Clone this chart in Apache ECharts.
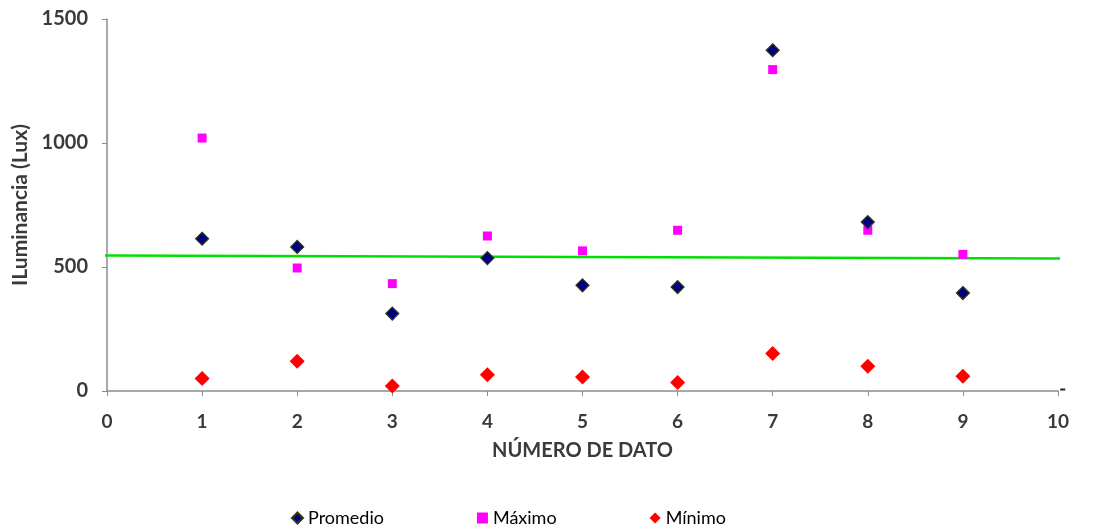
<!DOCTYPE html>
<html>
<head>
<meta charset="utf-8">
<script src="https://cdn.jsdelivr.net/npm/echarts@6/dist/echarts.min.js"></script>
<style>
  html, body { margin: 0; padding: 0; background: #ffffff; }
  #chart { width: 1097px; height: 529px; }
</style>
</head>
<body>
<div id="chart"></div>
<script>
// Measurement number (x) for each reading
const datos = [1, 2, 3, 4, 5, 6, 7, 8, 9];
// Illuminance readings in lux
const promedio = [614, 581, 312, 536, 426, 419, 1374, 681, 395];
const maximo   = [1020, 496, 433, 625, 565, 648, 1296, 648, 551];
const minimo   = [50, 120, 20, 66, 56, 34, 151, 100, 59];
// Reference (trend) line end points
const refX = [-0.1, 10.41];
const refY = [546, 534];
// Small stray mark at the end of the x axis
const extraX = [10.05];
const extraY = [6];

const pairs = (xs, ys) => xs.map((x, i) => [x, ys[i]]);

const font = 'Lato, "Open Sans", "DejaVu Sans", sans-serif';
const axisGray = '#8c8c8c';
const labelColor = '#3a3a3a';

const chart = echarts.init(document.getElementById('chart'));
chart.setOption({
  animation: false,
  backgroundColor: '#ffffff',
  grid: { left: 107, right: 39, top: 19, bottom: 138, containLabel: false },
  xAxis: {
    type: 'value', min: 0, max: 10, interval: 1,
    name: 'NÚMERO DE DATO', nameLocation: 'middle', nameGap: 50,
    nameTextStyle: { fontFamily: font, fontSize: 20, fontWeight: 'bold', color: labelColor },
    axisLine: { show: true, onZero: false, lineStyle: { color: axisGray, width: 1.5 } },
    axisTick: { show: true, length: 5, lineStyle: { color: axisGray } },
    axisLabel: { fontFamily: font, fontSize: 19, fontWeight: 'bold', color: labelColor, margin: 21 },
    splitLine: { show: false }
  },
  yAxis: {
    type: 'value', min: 0, max: 1500, interval: 500,
    name: 'ILuminancia (Lux)', nameLocation: 'middle', nameGap: 74, nameRotate: 90,
    nameTextStyle: { fontFamily: font, fontSize: 21, fontWeight: 'bold', color: labelColor },
    axisLine: { show: true, lineStyle: { color: axisGray, width: 1.5 } },
    axisTick: { show: true, length: 5, lineStyle: { color: axisGray } },
    axisLabel: {
      fontFamily: font, fontSize: 20, fontWeight: 'bold', color: labelColor, margin: 19,
      formatter: v => String(v)
    },
    splitLine: { show: false }
  },
  legend: {
    data: ['Promedio', 'Máximo', 'Mínimo'],
    left: 286, top: 504, itemGap: 93, itemWidth: 11, itemHeight: 11,
    textStyle: { fontFamily: font, fontSize: 18, color: '#000000' }
  },
  series: [
    {
      name: 'Trend', type: 'line', data: pairs(refX, refY), clip: false,
      symbol: 'none', silent: true, z: 1,
      lineStyle: { color: '#00e000', width: 2.5 }
    },
    {
      name: 'Promedio', type: 'scatter', data: pairs(datos, promedio),
      symbol: 'diamond', symbolSize: 13, z: 3,
      itemStyle: { color: '#000080', borderColor: '#2f3a10', borderWidth: 1.2, opacity: 1 }
    },
    {
      name: 'Máximo', type: 'scatter', data: pairs(datos, maximo),
      symbol: 'rect', symbolSize: 9, z: 2,
      itemStyle: { color: '#ff00ff', opacity: 1 }
    },
    {
      name: 'Mínimo', type: 'scatter', data: pairs(datos, minimo),
      symbol: 'diamond', symbolSize: 15, z: 3,
      itemStyle: { color: '#ff0000', opacity: 1 }
    },
    {
      name: 'extra', type: 'scatter', data: pairs(extraX, extraY), clip: false,
      symbol: 'rect', symbolSize: [5, 2], silent: true,
      itemStyle: { color: '#222222', opacity: 1 }
    }
  ]
});
</script>
</body>
</html>
